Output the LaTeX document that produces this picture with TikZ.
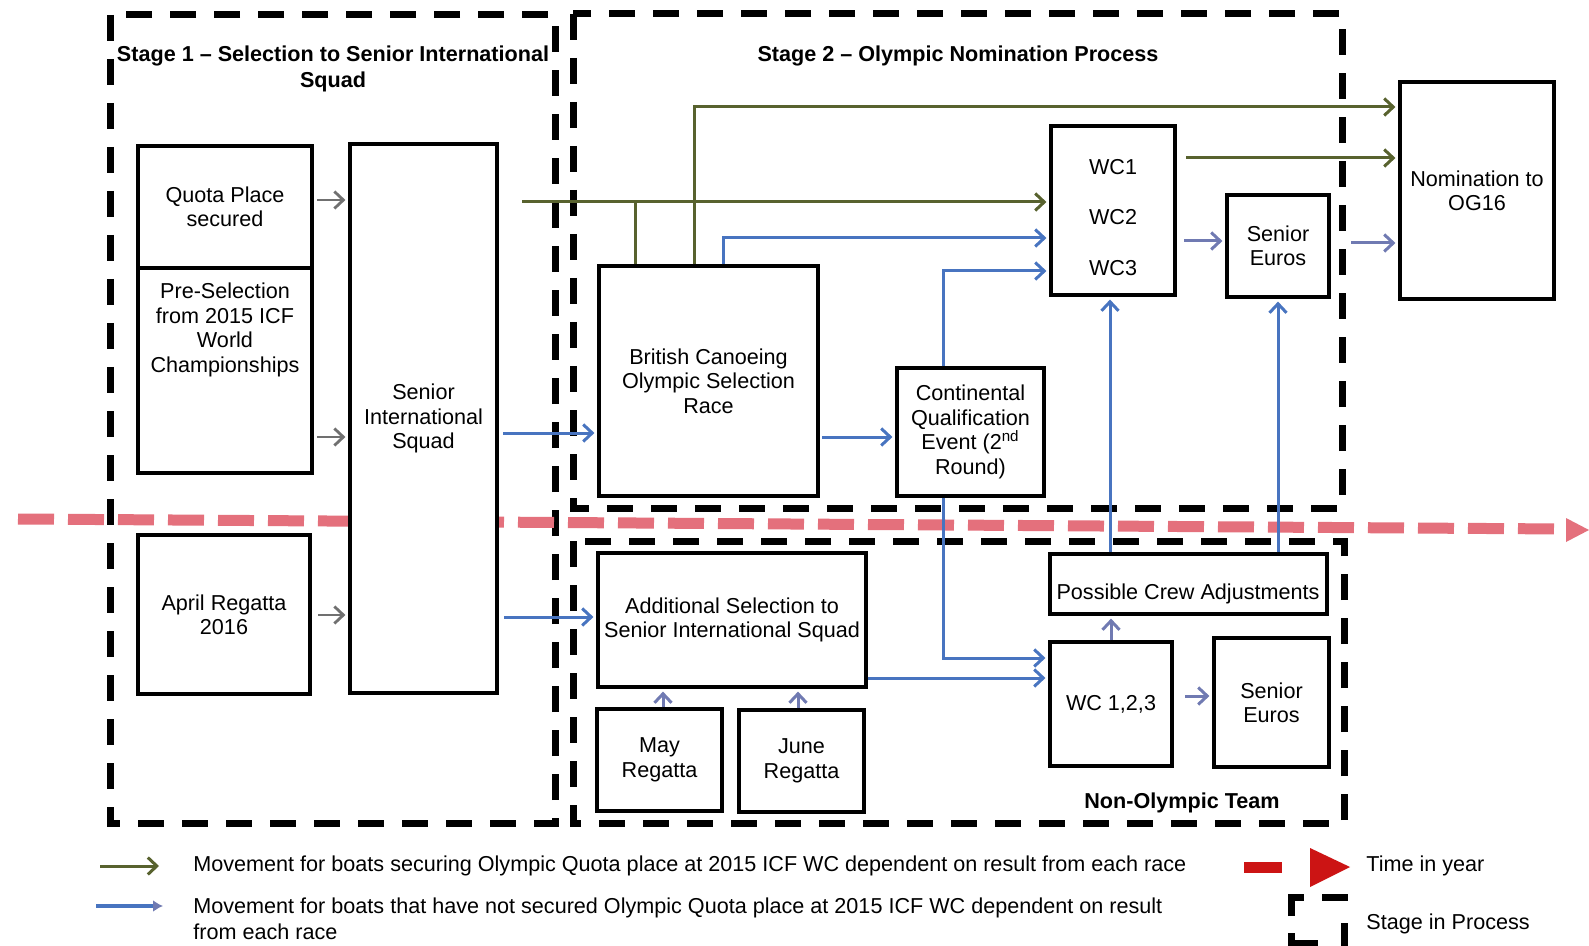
\documentclass[tikz,border=0pt]{standalone}
\usepackage{fontspec}
\setmainfont{Liberation Sans}
\usetikzlibrary{arrows.meta,calc}
\definecolor{olivel}{RGB}{88,98,46}
\definecolor{bluel}{RGB}{72,116,192}
\definecolor{purpl}{RGB}{112,122,178}
\definecolor{grayl}{RGB}{112,112,112}
\definecolor{timered}{RGB}{228,112,124}
\definecolor{legred}{RGB}{204,20,20}
\begin{document}
\begin{tikzpicture}[x=0.5pt,y=-0.5pt,
  box/.style={draw, line width=1.6pt, fill=white, inner sep=0pt, align=center,
    font=\fontsize{10.8}{12.2}\selectfont},
  sz/.style n args={2}{minimum width=#1pt, minimum height=#2pt},
  txt/.style={inner sep=0pt, align=center, font=\fontsize{10.8}{12.2}\selectfont},
  ttl/.style={inner sep=0pt, align=center, font=\fontsize{10.8}{13}\selectfont\bfseries},
  lgd/.style={inner sep=0pt, align=left, font=\fontsize{10.8}{13}\selectfont},
  stagebox/.style={draw, line width=3.5pt, dash pattern=on 13pt off 9pt},
  tip/.style={-{Straight Barb[length=4.5pt,width=8.5pt]}},
  garr/.style={grayl, line width=1.4pt, tip, shorten >=1.5pt},
  oline/.style={olivel, line width=1.5pt},
  oarr/.style={oline, tip, shorten >=1.5pt},
  barr/.style={bluel, line width=1.5pt, tip, shorten >=1.5pt},
  parr/.style={purpl, line width=1.5pt, tip, shorten >=1.5pt}]
\useasboundingbox (0,0) rectangle (1589,946);
\fill[white] (0,0) rectangle (1589,946);

% stage boxes
\draw[stagebox] (110,15) rectangle (555,823);
\draw[stagebox] (573,14) rectangle (1342,508);
\draw[stagebox] (573,541) rectangle (1344,823);

% time line
\draw[timered, line width=5.5pt, dash pattern=on 18pt off 7pt] (18,519) -- (1564,529);
\fill[timered] (1566,518) -- (1589,530) -- (1566,542) -- cycle;

% titles
\node[ttl] (t1) at (333,69) {Stage 1 – Selection to Senior International\\Squad};
\node[ttl] (t2) at (958,56) {Stage 2 – Olympic Nomination Process};
\node[ttl] (t3) at (1182,803) {Non-Olympic Team};

% boxes
\node[box, sz={87}{61}] (quota) at (225,207) {Quota Place\\secured};
\node[box, sz={87}{102.5}] (pre) at (225,370.5) {};
\node[txt] (pretxt) at (225,330) {Pre-Selection\\from 2015 ICF\\World\\Championships};
\node[box, sz={86}{79.5}] (april) at (224,614.5) {April Regatta\\2016};
\node[box, sz={73.5}{274.5}] (sis) at (423.5,418.5) {Senior\\International\\Squad};
\node[box, sz={109.5}{115}] (bc) at (708.5,381) {British Canoeing\\Olympic Selection\\Race};
\node[box, sz={73.5}{64}] (cont) at (970.5,432) {Continental\\Qualification\\Event (2\textsuperscript{nd}\\Round)};
\node[box, sz={62}{84.5}] (wc) at (1113,210.5) {};
\node[txt] (wc1) at (1113,167) {WC1};
\node[txt] (wc2) at (1113,217) {WC2};
\node[txt] (wc3) at (1113,268) {WC3};
\node[box, sz={51}{51}] (seU) at (1278,246) {Senior\\Euros};
\node[box, sz={77}{108.5}] (nom) at (1477,190.5) {Nomination to\\OG16};
\node[box, sz={134}{67}] (add) at (732,620) {Additional Selection to\\Senior International Squad};
\node[box, sz={62.5}{51}] (may) at (659.5,760) {May\\Regatta};
\node[box, sz={62.5}{51}] (june) at (801.5,761) {June\\Regatta};
\node[box, sz={138.5}{30}] (pca) at (1188.5,584) {};
\node[txt] (pcatxt) at (1188,594) {Possible Crew Adjustments};
\node[box, sz={61}{62}] (wcx) at (1111,704) {WC 1,2,3};
\node[box, sz={57.5}{64.5}] (seL) at (1271.5,702.5) {Senior\\Euros};

% gray arrows
\coordinate (g1) at (317,200);
\coordinate (g2) at (317,437);
\coordinate (g3) at (318,615);
\draw[garr] (g1) -- (sis.west|-g1);
\draw[garr] (g2) -- (sis.west|-g2);
\draw[garr] (g3) -- (sis.west|-g3);

% olive arrows
\coordinate (o1) at (522,202);
\draw[oarr] (o1) -- (wc.west|-o1);
\coordinate (o2) at (635,202);
\draw[oline] (o2) -- (bc.north-|o2);
\coordinate (o3) at (694,107);
\draw[oarr] (bc.north-|o3) -- (o3) -- (nom.west|-o3);
\coordinate (o4) at (1186,158);
\draw[oarr] (o4) -- (nom.west|-o4);

% blue arrows
\coordinate (b1) at (503,433);
\draw[barr] (b1) -- (bc.west|-b1);
\coordinate (b2) at (723,238);
\draw[barr] (bc.north-|b2) -- (b2) -- (wc.west|-b2);
\coordinate (b3) at (943,271);
\draw[barr] (cont.north-|b3) -- (b3) -- (wc.west|-b3);
\coordinate (b4) at (822,437);
\draw[barr] (b4) -- (cont.west|-b4);
\coordinate (b5) at (943,658);
\draw[barr] (cont.south-|b5) -- (b5) -- (wcx.west|-b5);
\coordinate (b6) at (866,678);
\draw[barr] (add.east|-b6) -- (wcx.west|-b6);
\coordinate (b7) at (504,617);
\draw[barr] (b7) -- (add.west|-b7);
\coordinate (b8) at (1110,0);
\draw[barr] (pca.north-|b8) -- (wc.south-|b8);
\coordinate (b9) at (1278,0);
\draw[barr] (pca.north-|b9) -- (seU.south-|b9);

% purple-grey arrows
\coordinate (p1) at (1184,241);
\draw[parr] (p1) -- (seU.west|-p1);
\coordinate (p2) at (1351,243);
\draw[parr] (p2) -- (nom.west|-p2);
\coordinate (p3) at (663,0);
\draw[parr] (may.north-|p3) -- (add.south-|p3);
\coordinate (p4) at (798,0);
\draw[parr] (june.north-|p4) -- (add.south-|p4);
\coordinate (p5) at (1111,0);
\draw[parr] (wcx.north-|p5) -- (pca.south-|p5);
\coordinate (p6) at (1185,696);
\draw[parr] (p6) -- (seL.west|-p6);

% legend
\coordinate (l1s) at (100,866);
\coordinate (l1e) at (159,866);
\draw[oline, tip] (l1s) -- (l1e);
\node[lgd, anchor=west] (l1t) at (193,866) {Movement for boats securing Olympic Quota place at 2015 ICF WC dependent on result from each race};
\coordinate (l2s) at (96,906);
\coordinate (l2e) at (163,906);
\draw[bluel, line width=2pt, -{Latex[length=5pt,width=6pt,color=purpl]}] (l2s) -- (l2e);
\node[lgd, anchor=north west] (l2t) at (193,897) {Movement for boats that have not secured Olympic Quota place at 2015 ICF WC dependent on result\\from each race};
\fill[legred] (1244,862) rectangle (1282,873);
\fill[legred] (1310,848) -- (1350,867) -- (1310,887) -- cycle;
\node[lgd, anchor=west] (l3t) at (1366,866) {Time in year};
\begin{scope}[line width=3.5pt]
\clip (0,0) rectangle (1589,946);
\draw (1291,916) -- (1291,897) -- (1304,897);
\draw (1322,897) -- (1348,897);
\draw (1344,923) -- (1344,950);
\draw (1291,933) -- (1291,943) -- (1318,943);
\end{scope}
\node[lgd, anchor=west] (l4t) at (1366,924) {Stage in Process};
\end{tikzpicture}
\end{document}
